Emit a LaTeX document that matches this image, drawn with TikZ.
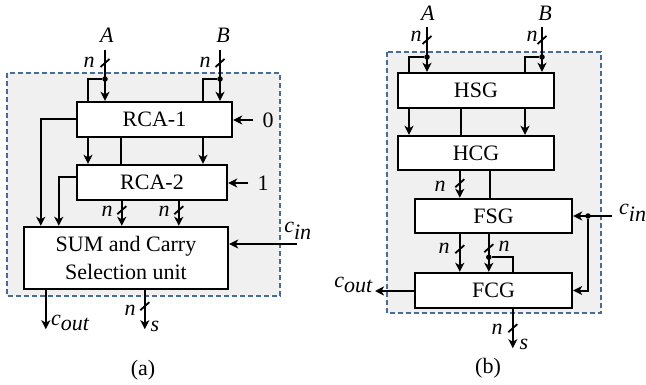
\documentclass[tikz,border=0pt]{standalone}
\usepackage{fontspec}
\setmainfont{Liberation Serif}
\usetikzlibrary{positioning, arrows.meta, calc}
\definecolor{frameblue}{HTML}{4A6A9A}
\definecolor{framegray}{HTML}{F0F0F0}

\begin{document}
\begin{tikzpicture}[
    x=1pt, y=-1pt,
    font=\fontsize{22}{24}\selectfont,
    block/.style={draw, fill=white, line width=2.4pt, inner sep=0pt,
                  align=center},
    dashframe/.style={draw=frameblue, fill=framegray, line width=1.3pt,
                      dash pattern=on 5pt off 3pt},
    arrow/.style={-{Stealth[length=9pt, width=9pt, inset=2.5pt]},
                  line width=2pt},
    wire/.style={line width=2pt},
    tag/.style={inner sep=1pt},
    joint/.style={circle, fill, inner sep=0pt, minimum size=5.5pt},
    busmark/.pic={\draw[line width=1.8pt] (-4.5pt,-4pt) -- (4.5pt,4pt);},
]
\useasboundingbox (0,0) rectangle (646,385);

% === (a) frame ===
\draw[dashframe] (7,73) rectangle (280,296);

% === (a) blocks ===
\node[block, minimum width=155pt, minimum height=35pt] (rcaone)
  at (154.5,119.5) {RCA-1};
\node[block, minimum width=150pt, minimum height=35pt] (rcatwo)
  at (152,182.5) {RCA-2};
\node[block, minimum width=204pt, minimum height=62pt,
      font=\fontsize{22}{28}\selectfont] (sumsel)
  at (126,258) {SUM and Carry\\Selection unit};

% === (a) inputs ===
\node[tag] (ina) at (107,35) {\textit{A}};
\node[tag] (inb) at (223,35) {\textit{B}};
\coordinate (atop) at (105,50);
\coordinate (btop) at (220,50);
\node[joint] (ajoin) at (105,79) {};
\node[joint] (bjoin) at (220,79) {};
\coordinate (aloop) at (88,102);
\coordinate (bloop) at (203,102);
\draw[arrow] (atop) -- (atop |- rcaone.north);
\draw[arrow] (btop) -- (btop |- rcaone.north);
\draw[wire] (ajoin) -| (aloop);
\draw[wire] (bjoin) -| (bloop);
\pic at (105,63) {busmark};
\pic at (220,63) {busmark};
\node[tag] (na) at (89,62) {\textit{n}};
\node[tag] (nb) at (205,62) {\textit{n}};

% === (a) carry inputs ===
\node[tag] (zero) at (268,120) {0};
\node[tag] (one) at (263,183) {1};
\draw[arrow] ([xshift=-8pt]zero.west) -- (rcaone.east |- zero.west);
\draw[arrow] ([xshift=-8pt]one.west) -- (rcatwo.east |- one.west);

% === (a) RCA-1 to RCA-2 ===
\draw[arrow] (rcaone.south -| aloop) -- (rcatwo.north -| aloop);
\draw[arrow] (rcaone.south -| bloop) -- (rcatwo.north -| bloop);
\draw[wire] ($(rcaone.south west)+(45,0)$) -- ($(rcatwo.north west)+(45,0)$);

% === (a) into selection unit ===
\draw[arrow] (rcaone.west) -| ($(sumsel.north west)+(18,0)$);
\draw[arrow] ([yshift=5pt]rcatwo.west) -| ($(sumsel.north west)+(36,0)$);
\coordinate (suma) at ($(rcatwo.south west)+(46,0)$);
\coordinate (sumb) at ($(rcatwo.south west)+(103,0)$);
\draw[arrow] (suma) -- (suma |- sumsel.north);
\draw[arrow] (sumb) -- (sumb |- sumsel.north);
\pic at ($(suma)+(0,9)$) {busmark};
\pic at ($(sumb)+(0,9)$) {busmark};
\node[tag] (nsa) at (107,211) {\textit{n}};
\node[tag] (nsb) at (164,211) {\textit{n}};

\coordinate (cinsrc) at (297,244);
\draw[arrow] (cinsrc) -- (cinsrc -| sumsel.east);
\node[tag] (cina) at (298,231) {$\textit{c}_{\textit{in}}$};

% === (a) outputs ===
\coordinate (couta) at ($(sumsel.south west)+(23,0)$);
\coordinate (coutaend) at ($(couta)+(0,39)$);
\draw[arrow] (couta) -- (coutaend);
\node[tag, anchor=west] (couttxt) at (50,323) {$\textit{c}_{\textit{out}}$};
\coordinate (souta) at ($(sumsel.south west)+(122,0)$);
\coordinate (soutaend) at ($(souta)+(0,39)$);
\draw[arrow] (souta) -- (soutaend);
\pic at ($(souta)+(0,16)$) {busmark};
\node[tag] (nsout) at (130,310) {\textit{n}};
\node[tag] (stxta) at (155,326) {\textit{s}};

\node (capa) at (143,370) {(a)};

% === (b) frame ===
\draw[dashframe] (387,52) rectangle (601,313);

% === (b) blocks ===
\node[block, minimum width=156pt, minimum height=35pt] (hsg)
  at (476,90.5) {HSG};
\node[block, minimum width=156pt, minimum height=34pt] (hcg)
  at (476,153) {HCG};
\node[block, minimum width=157pt, minimum height=34pt] (fsg)
  at (493.5,216) {FSG};
\node[block, minimum width=157pt, minimum height=35pt] (fcg)
  at (493.5,290.5) {FCG};

% === (b) inputs ===
\node[tag] (inbA) at (428,13) {\textit{A}};
\node[tag] (inbB) at (545,13) {\textit{B}};
\coordinate (batop) at (427,27);
\coordinate (bbtop) at (542,27);
\node[joint] (bajoin) at (427,57) {};
\node[joint] (bbjoin) at (542,57) {};
\coordinate (baloop) at (409,73);
\coordinate (bbloop) at (525,73);
\draw[arrow] (batop) -- (batop |- hsg.north);
\draw[arrow] (bbtop) -- (bbtop |- hsg.north);
\draw[wire] (bajoin) -| (baloop);
\draw[wire] (bbjoin) -| (bbloop);
\pic at (427,40) {busmark};
\pic at (542,40) {busmark};
\node[tag] (nbA) at (416,36) {\textit{n}};
\node[tag] (nbB) at (532,36) {\textit{n}};

% === (b) HSG to HCG to FSG ===
\draw[arrow] (hsg.south -| baloop) -- (hcg.north -| baloop);
\draw[arrow] (hsg.south -| bbloop) -- (hcg.north -| bbloop);
\draw[wire] ($(hsg.south west)+(64,0)$) -- ($(hcg.north west)+(64,0)$);
\coordinate (hcgout) at ($(hcg.south west)+(63,0)$);
\draw[arrow] (hcgout) -- (hcgout |- fsg.north);
\pic at ($(hcgout)+(0,12)$) {busmark};
\node[tag] (nhcg) at (440,186) {\textit{n}};
\draw[wire] ($(hcg.south west)+(93,0)$) -- ($(hcg.south west)+(93,29)$);

% === (b) carry in ===
\coordinate (cinbsrc) at (612,216);
\node[joint] (cinjoin) at (588,216) {};
\draw[arrow] (cinbsrc) -- (fsg.east);
\draw[arrow] (cinjoin) |- (fcg.east);
\node[tag, anchor=west] (cinb) at (618,213) {$\textit{c}_{\textit{in}}$};

% === (b) FSG to FCG ===
\coordinate (fsgouta) at ($(fsg.south west)+(46,0)$);
\coordinate (fsgoutb) at ($(fsg.south west)+(75,0)$);
\draw[arrow] (fsgouta) -- (fsgouta |- fcg.north);
\draw[arrow] (fsgoutb) -- (fsgoutb |- fcg.north);
\pic at ($(fsgouta)+(0,15)$) {busmark};
\pic at ($(fsgoutb)+(0,14)$) {busmark};
\node[tag] (nfa) at (444,248) {\textit{n}};
\node[tag] (nfb) at (504,246) {\textit{n}};
\node[joint] (fjoin) at ($(fsgoutb)+(0,23)$) {};
\coordinate (floop) at ($(fcg.north west)+(99,0)$);
\draw[wire] (fjoin) -| (floop);

% === (b) outputs ===
\coordinate (coutbend) at (375,291);
\draw[arrow] (fcg.west |- coutbend) -- (coutbend);
\node[tag, anchor=east] (coutb) at (374,285) {$\textit{c}_{\textit{out}}$};
\coordinate (soutb) at ($(fcg.south west)+(99,0)$);
\coordinate (soutbend) at ($(soutb)+(0,39)$);
\draw[arrow] (soutb) -- (soutbend);
\pic at ($(soutb)+(0,19)$) {busmark};
\node[tag] (nsoutb) at (497,329) {\textit{n}};
\node[tag] (stxtb) at (524,344) {\textit{s}};

\node (capb) at (488,368) {(b)};

\end{tikzpicture}
\end{document}
